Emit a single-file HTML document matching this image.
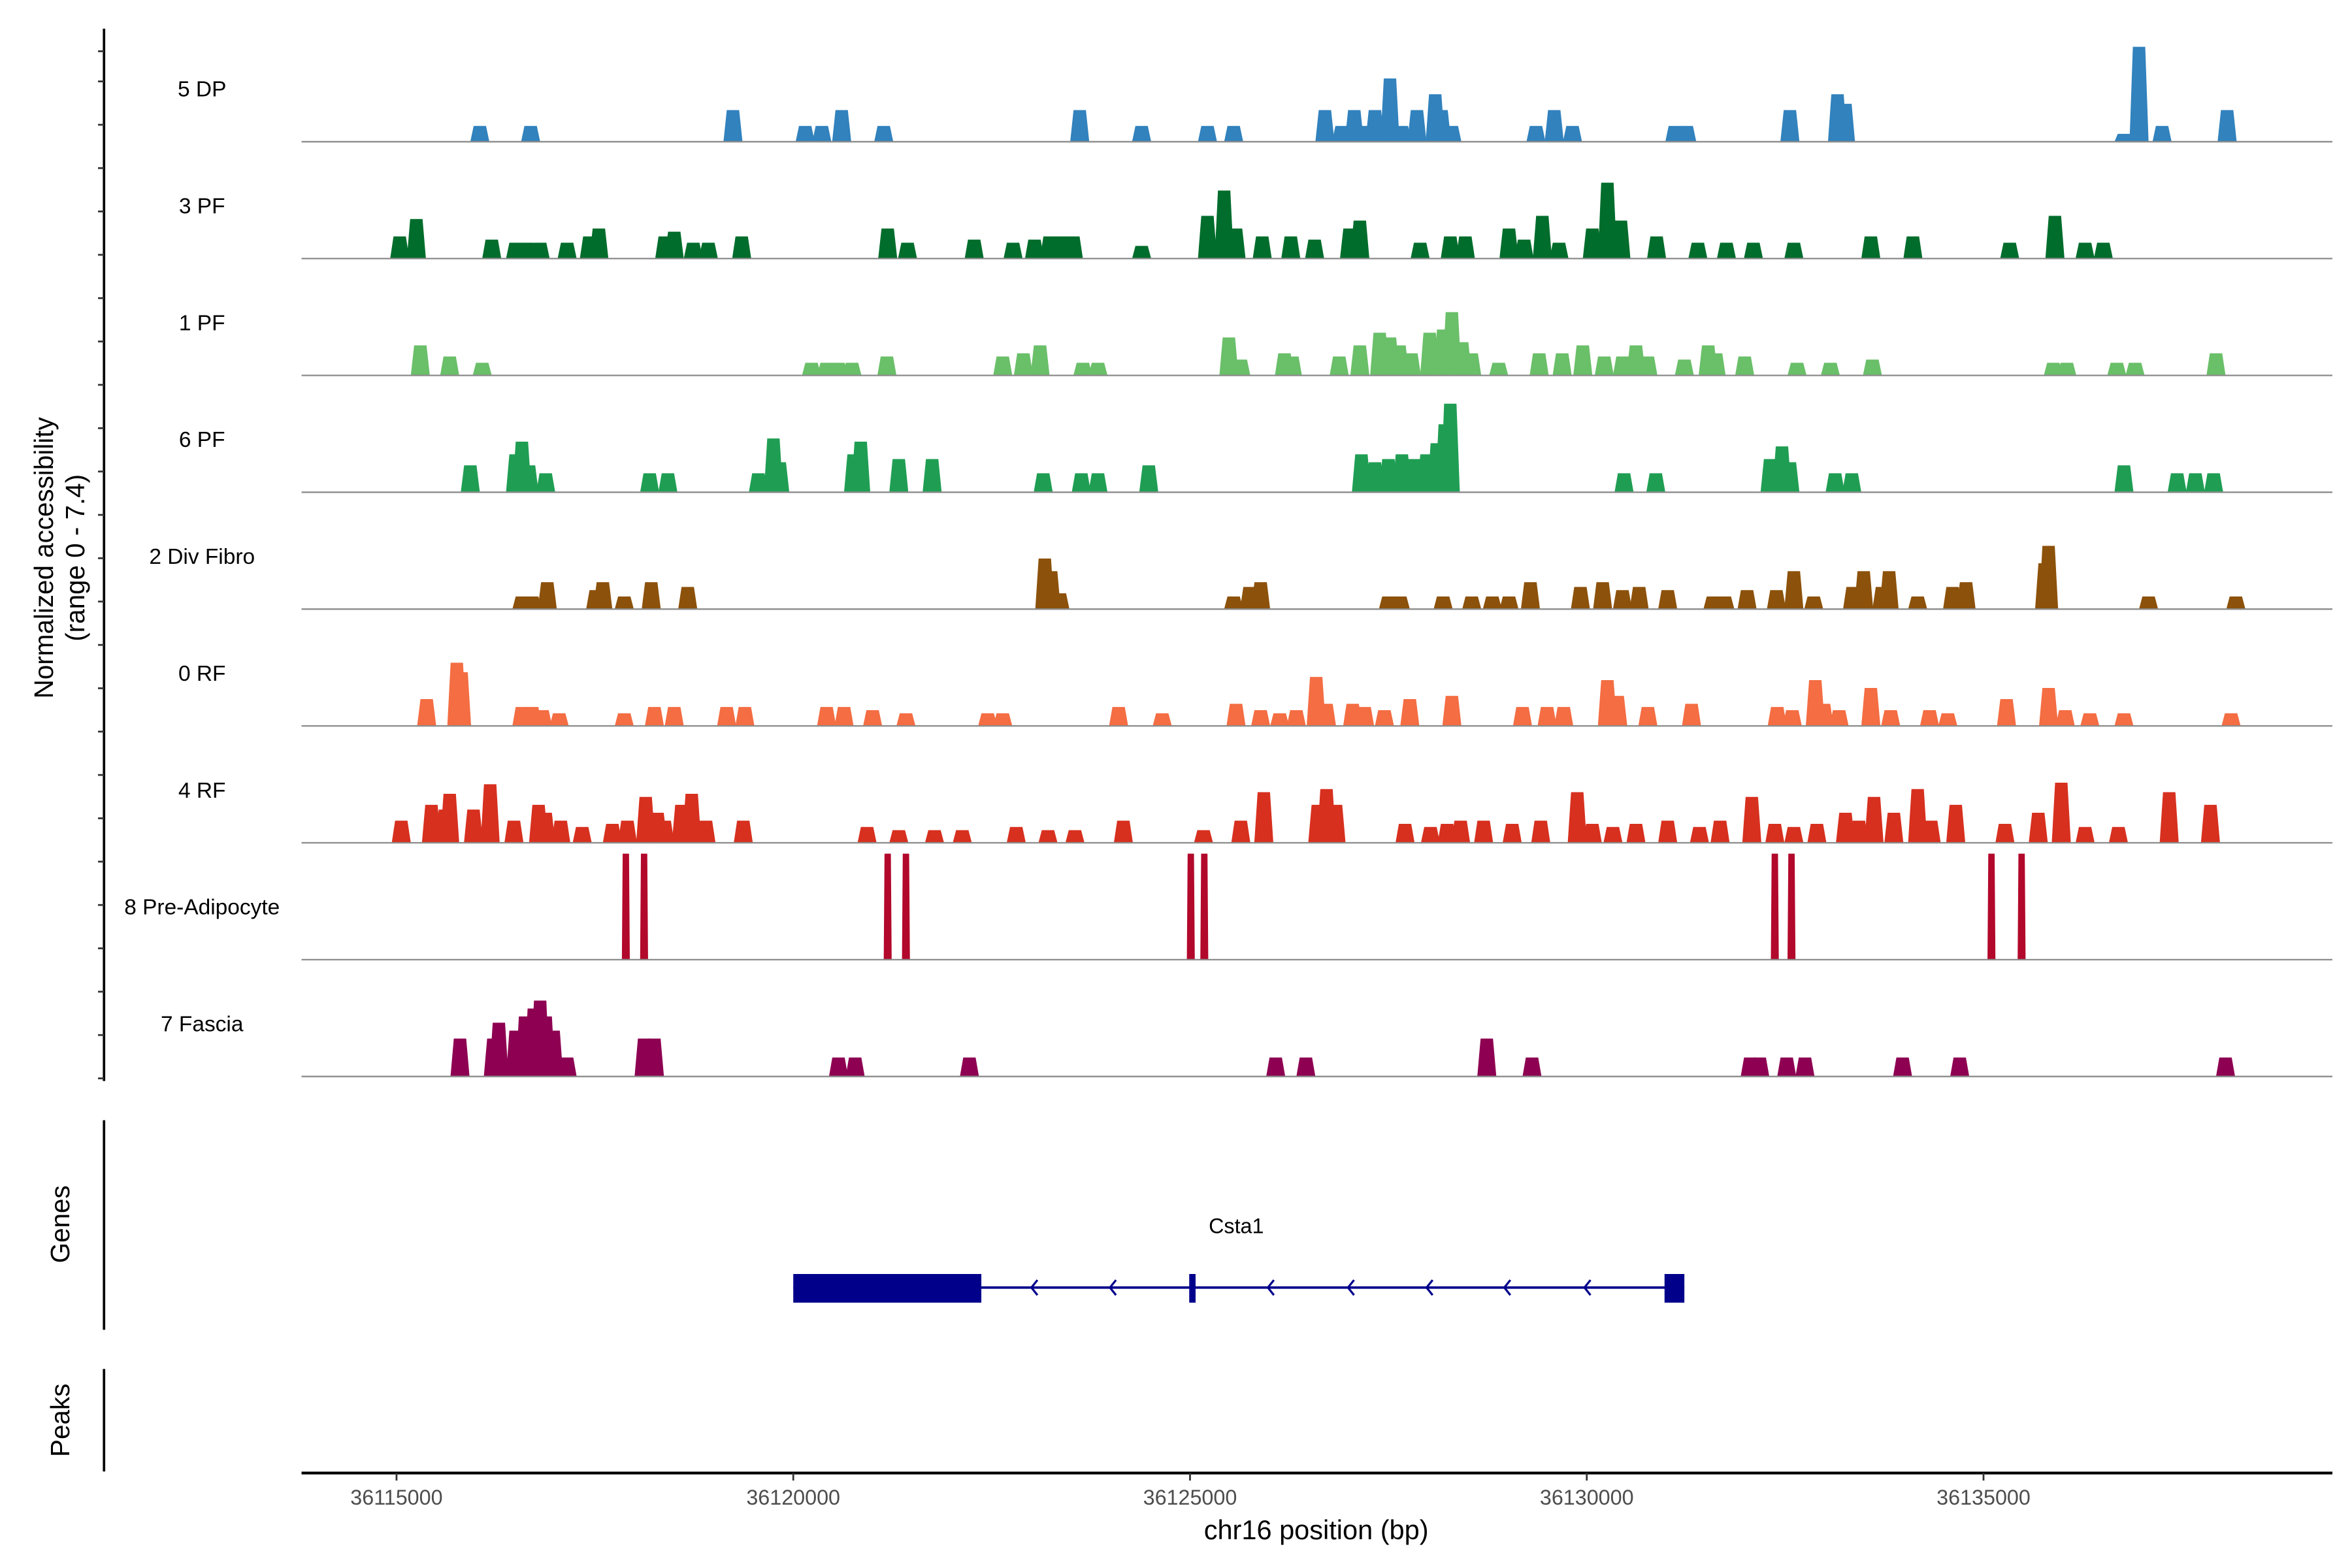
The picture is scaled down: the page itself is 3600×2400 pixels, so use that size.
<!DOCTYPE html>
<html><head><meta charset="utf-8"><style>
html,body{margin:0;padding:0;background:#fff}
svg{display:block;font-family:"Liberation Sans",Arial,sans-serif}
</style></head><body>
<svg id="chart" width="3600" height="2400" viewBox="0 0 1560 1040" xmlns="http://www.w3.org/2000/svg">
<g id="tracks"></g>
<g id="yaxis"></g>
<text transform="translate(35,370) rotate(-90)" text-anchor="middle" font-size="17.5">Normalized accessibility</text>
<text transform="translate(56,370) rotate(-90)" text-anchor="middle" font-size="17.5">(range 0 - 7.4)</text>
<line x1="69" y1="743" x2="69" y2="882" stroke="#000" stroke-width="1.6"/>
<text transform="translate(46,812) rotate(-90)" text-anchor="middle" font-size="17.5">Genes</text>
<line x1="69" y1="908" x2="69" y2="976" stroke="#000" stroke-width="1.6"/>
<text transform="translate(46,942) rotate(-90)" text-anchor="middle" font-size="17.5">Peaks</text>
<g id="gene"></g>
<g id="xaxis"></g>
<text x="873" y="1021" text-anchor="middle" font-size="18">chr16 position (bp)</text>
</svg>
<script>
// positions in kb offset from 36,115,000; heights in normalized accessibility units
const START = 36115000;
const trackNames = ["5 DP","3 PF","1 PF","6 PF","2 Div Fibro","0 RF","4 RF","8 Pre-Adipocyte","7 Fascia"];
const trackColors = ["#3182bd","#006d2c","#6abf69","#1f9e53","#8c510a","#f46d43","#d7301f","#b2082b","#8e0152"];
const posDP = [1.05,1.69,4.24,5.15,5.36,5.61,6.14,8.61,9.39,10.22,10.55,11.70,11.91,12.07,12.20,12.33,12.43,12.52,12.67,12.86,13.09,13.17,13.30,14.36,14.59,14.82,16.11,16.26,17.56,18.16,18.26,21.77,21.96,22.25,23.07];
const valDP = [1,1,2,1,1,2,1,2,1,1,1,2,1,2,1,2,1,4,1,2,3,2,1,1,2,1,1,1,2,3,2.4,0.5,6,1,2];
const pos3PF = [0.04,0.25,1.20,1.50,1.65,1.81,2.15,2.43,2.55,3.38,3.50,3.74,3.93,4.35,6.19,6.44,7.28,7.77,8.04,8.23,8.38,8.53,9.39,10.22,10.43,10.58,10.91,11.27,11.57,12.01,12.14,12.90,13.28,13.47,14.02,14.21,14.44,14.65,15.07,15.26,15.43,15.88,16.40,16.76,17.10,17.61,18.58,19.11,20.33,20.90,21.28,21.51];
const val3PF = [1.4,2.5,1.2,1.0,1.0,1.0,1.0,1.4,1.9,1.4,1.7,1.0,1.0,1.4,1.9,1.0,1.2,1.0,1.2,1.4,1.4,1.4,0.8,2.7,4.3,1.9,1.4,1.4,1.2,1.9,2.4,1.0,1.4,1.4,1.9,1.2,2.7,1.0,1.9,4.8,2.4,1.4,1.0,1.0,1.0,1.0,1.4,1.4,1.0,2.7,1.0,1.0];
const pos1PF = [0.30,0.67,1.08,5.23,5.42,5.57,5.74,6.18,7.64,7.90,8.11,8.65,8.84,10.49,10.64,11.19,11.29,11.88,12.14,12.39,12.52,12.64,12.79,13.02,13.19,13.30,13.43,13.55,13.89,14.40,14.69,14.95,15.22,15.45,15.62,15.77,16.23,16.53,16.63,16.99,17.65,18.07,18.60,20.88,21.05,21.68,21.91,22.93];
const val1PF = [1.9,1.2,0.8,0.8,0.8,0.8,0.8,1.2,1.2,1.4,1.9,0.8,0.8,2.4,1.0,1.4,1.2,1.2,1.9,2.7,2.4,1.9,1.4,2.7,2.9,4.0,2.1,1.4,0.8,1.4,1.4,1.9,1.2,1.2,1.9,1.2,1.0,1.9,1.4,1.2,0.8,0.8,1.0,0.8,0.8,0.8,0.8,1.4];
const pos6PF = [0.93,1.50,1.58,1.67,1.88,3.19,3.42,4.56,4.75,4.83,5.76,5.85,6.33,6.75,8.15,8.63,8.84,9.48,12.16,12.33,12.50,12.67,12.83,12.98,13.11,13.21,13.28,15.47,15.87,17.31,17.46,17.56,18.13,18.34,21.77,22.44,22.67,22.90];
const val6PF = [1.7,2.4,3.2,1.7,1.2,1.2,1.2,1.2,3.4,1.9,2.4,3.2,2.1,2.1,1.2,1.2,1.2,1.7,2.4,1.9,2.1,2.4,2.1,2.4,3.1,4.3,5.6,1.2,1.2,2.1,2.9,1.9,1.2,1.2,1.7,1.2,1.2,1.2];
const posDiv = [1.58,1.71,1.90,2.51,2.60,2.87,3.21,3.67,8.17,8.25,8.36,10.55,10.75,10.89,12.50,12.65,13.19,13.55,13.81,14.02,14.29,14.92,15.20,15.45,15.66,16.02,16.59,16.74,17.02,17.39,17.61,17.86,18.35,18.49,18.72,18.81,19.17,19.61,19.78,20.77,20.82,22.08,23.18];
const valDiv = [0.8,0.8,1.7,1.2,1.7,0.8,1.7,1.4,3.2,2.4,1.0,0.8,1.4,1.7,0.8,0.8,0.8,0.8,0.8,0.8,1.7,1.4,1.7,1.2,1.4,1.2,0.8,0.8,1.2,1.2,2.4,0.8,1.4,2.4,1.4,2.4,0.8,1.4,1.7,2.9,4.0,0.8,0.8];
const pos0RF = [0.38,0.76,0.82,1.58,1.71,1.84,2.05,2.87,3.25,3.50,4.16,4.39,5.42,5.64,6.00,6.42,7.45,7.64,9.10,9.65,10.58,10.89,11.13,11.34,11.59,11.72,12.05,12.20,12.45,12.77,13.30,14.19,14.50,14.71,15.26,15.39,15.77,16.32,17.40,17.59,17.88,17.99,18.18,18.58,18.83,19.32,19.55,20.29,20.82,21.03,21.34,21.77,23.12];
const val0RF = [1.7,4.0,3.4,1.2,1.2,1.0,0.8,0.8,1.2,1.2,1.2,1.2,1.2,1.2,1.0,0.8,0.8,0.8,1.2,0.8,1.4,1.0,0.8,1.0,3.1,1.4,1.4,1.2,1.0,1.7,1.9,1.2,1.2,1.2,2.9,1.9,1.2,1.4,1.2,1.0,2.9,1.4,1.0,2.4,1.0,1.0,0.8,1.7,2.4,1.0,0.8,0.8,0.8];
const pos4RF = [0.06,0.44,0.61,0.67,0.97,1.18,1.48,1.79,1.88,2.07,2.34,2.72,2.91,3.14,3.29,3.38,3.59,3.72,3.90,4.37,5.93,6.33,6.78,7.13,7.81,8.21,8.55,9.16,10.17,10.64,10.93,11.61,11.72,11.84,12.71,13.03,13.24,13.41,13.70,14.06,14.42,14.88,15.07,15.33,15.62,16.02,16.42,16.68,17.08,17.37,17.61,17.90,18.26,18.43,18.62,18.87,19.17,19.34,19.65,20.27,20.69,20.98,21.28,21.70,22.34,22.86];
const val4RF = [1.4,2.4,2.1,3.1,2.1,3.7,1.4,2.4,1.9,1.4,1.0,1.2,1.4,2.9,1.9,1.4,2.4,3.1,1.4,1.4,1.0,0.8,0.8,0.8,1.0,0.8,0.8,1.4,0.8,1.4,3.2,2.4,3.4,2.4,1.2,1.0,1.2,1.4,1.4,1.2,1.4,3.2,1.2,1.0,1.2,1.4,1.0,1.4,2.9,1.2,1.0,1.2,1.9,1.4,2.9,1.9,3.4,1.4,2.4,1.2,1.9,3.8,1.0,1.0,3.2,2.4];
const posPre = [2.89,3.12,6.19,6.42,10.01,10.18,17.37,17.58,20.10,20.48];
const valPre = [6.7,6.7,6.7,6.7,6.7,6.7,6.7,6.7,6.7,6.7];
const posFas = [0.80,1.22,1.29,1.50,1.62,1.73,1.81,1.88,1.98,2.15,3.12,3.25,5.57,5.78,7.22,11.08,11.46,13.74,14.31,17.06,17.18,17.52,17.75,18.98,19.70,23.05];
const valFas = [2.4,2.4,3.4,2.9,3.8,4.3,4.8,3.8,2.9,1.2,2.4,2.4,1.2,1.2,1.2,1.2,1.2,2.4,1.2,1.2,1.2,1.2,1.2,1.2,1.2,1.2];
const trackPos = [posDP,pos3PF,pos1PF,pos6PF,posDiv,pos0RF,pos4RF,posPre,posFas];
const trackVal = [valDP,val3PF,val1PF,val6PF,valDiv,val0RF,val4RF,valPre,valFas];
const xTicks = [36115000,36120000,36125000,36130000,36135000];
const geneExonsStart = [5.0,9.99,15.98];
const geneExonsEnd = [7.37,10.07,16.23];
const geneStart = 5.0, geneEnd = 16.23;
const geneChevrons = [8.02,9.01,11.0,12.01,13.0,13.98,14.99];

const NS="http://www.w3.org/2000/svg";
const X0=263, PXPERKB=52.63;
function xs(kb){return X0+kb*PXPERKB;}
function xbp(bp){return xs((bp-START)/1000);}
const baseY=[94,171.5,249,326.5,404,481.5,559,636.5,714];
const UNIT=10.49, YMAX=7.4;
function ys(i,v){return baseY[i]-Math.min(v,YMAX)*UNIT;}
function mk(tag,attrs,parent){const e=document.createElementNS(NS,tag);for(const k in attrs)e.setAttribute(k,attrs[k]);parent.appendChild(e);return e;}

const tg=document.getElementById('tracks');
trackNames.forEach((nm,i)=>{
  const g=mk('g',{},tg);
  
  
  const t=mk('text',{x:134,y:baseY[i]-30,'text-anchor':'middle','font-size':14.5},g);
  t.textContent=nm;
  
  
  const P=trackPos[i],V=trackVal[i];
  const w=(i===7)?0.1:0.24;
  const n=Math.min(P.length,V.length);
  for(let k=0;k<n;k++){
    const c=P[k], x1=xs(c-w/2), x2=xs(c+w/2), tw=(x2-x1)*(i===7?0.8:0.65), xm=xs(c);
    const yt=ys(i,V[k]), yb=baseY[i];
    const p=mk('polygon',{points:`${x1},${yb} ${xm-tw/2},${yt} ${xm+tw/2},${yt} ${x2},${yb}`,fill:trackColors[i]},g);
    
    
  }
  const bl=mk('line',{x1:200,x2:1547,y1:baseY[i],y2:baseY[i],stroke:'#8c8c8c','stroke-width':1},g);
  
  
});

const ya=document.getElementById('yaxis');
mk('line',{x1:69,y1:19,x2:69,y2:717,stroke:'#000','stroke-width':1.6},ya);
for(let y=54;y<=716;y+=28.75){mk('line',{x1:65,x2:69,y1:y,y2:y,stroke:'#333','stroke-width':1.2},ya);}
mk('line',{x1:65,x2:69,y1:34,y2:34,stroke:'#333','stroke-width':1.2},ya);

const gg=document.getElementById('gene');
const gc='#00008b';
const gt=mk('text',{x:820,y:818,'text-anchor':'middle','font-size':14},gg);
gt.textContent='Csta1';


mk('line',{x1:xs(geneStart),x2:xs(geneEnd),y1:854,y2:854,stroke:gc,'stroke-width':1.6},gg);
for(let k=0;k<geneExonsStart.length;k++){
  const r=mk('rect',{x:xs(geneExonsStart[k]),y:845,width:xs(geneExonsEnd[k])-xs(geneExonsStart[k]),height:19,fill:gc},gg);
  
  
}
geneChevrons.forEach(c=>{const x=xs(c);mk('polyline',{points:`${x+3},849 ${x-1},854 ${x+3},859`,fill:'none',stroke:gc,'stroke-width':1.4},gg);});

const xa=document.getElementById('xaxis');
mk('line',{x1:200,x2:1547,y1:977,y2:977,stroke:'#000','stroke-width':1.8},xa);
xTicks.forEach(b=>{
  const x=xbp(b);
  mk('line',{x1:x,x2:x,y1:977,y2:982,stroke:'#333','stroke-width':1.2},xa);
  const t=mk('text',{x:x,y:998,'text-anchor':'middle','font-size':14,fill:'#4d4d4d'},xa);
  t.textContent=String(b);
  
  
});
</script>
</body></html>
